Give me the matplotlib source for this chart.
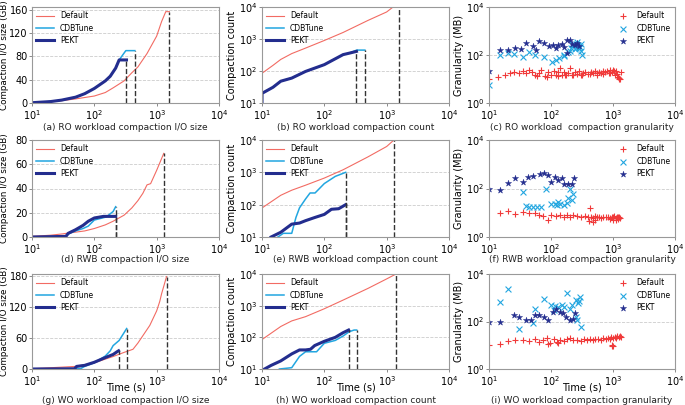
import matplotlib.pyplot as plt
import numpy as np

# ---- colours
C_DEF = '#f26b63'
C_DEF_PT = '#f03a3a'
C_CDB = '#22a6e0'
C_PEKT = '#232d8e'

# ---- (a) RO compaction I/O size (GB)
a_def_x = [10, 20, 30, 50, 100, 150, 200, 300, 400, 500, 700, 1000, 1200, 1400, 1600]
a_def_y = [0.5, 2, 4, 7, 12, 18, 26, 38, 52, 62, 85, 115, 140, 157, 157]
a_cdb_x = [10, 20, 30, 50, 70, 100, 150, 180, 220, 250, 320, 447]
a_cdb_y = [0.5, 2.5, 5, 10, 16, 25, 38, 46, 60, 74, 90, 90]
a_pekt_x = [10, 20, 30, 50, 70, 100, 150, 180, 220, 250, 328]
a_pekt_y = [0.5, 2.5, 5, 10, 16, 25, 38, 46, 60, 74, 74]

# ---- (b) RO compaction count
b_def_x = [10, 15, 20, 30, 50, 100, 200, 500, 1000, 1250, 1600]
b_def_y = [85, 150, 230, 350, 520, 900, 1600, 3800, 7000, 9800, 9800]
b_cdb_x = [10, 10, 15, 20, 30, 50, 100, 200, 250, 330, 447]
b_cdb_y = [10, 20, 31, 48, 60, 97, 158, 325, 360, 450, 450]
b_pekt_x = [10, 10, 15, 20, 30, 50, 100, 200, 250, 328]
b_pekt_y = [10, 20, 31, 48, 60, 97, 158, 325, 360, 410]

# ---- (c) RO granularity (MB)
c_def_x = [10, 14, 18, 22, 25, 30, 35, 40, 45, 50, 55, 60, 65, 70, 80, 90, 100, 110, 120,
           130, 140, 150, 160, 175, 190, 200, 220, 240, 260, 280, 300, 330, 360, 400, 440,
           480, 520, 560, 600, 650, 700, 750, 800, 850, 900, 950, 1000, 1050, 1100, 1150,
           1200, 1230, 1260, 1300, 1350, 85, 130, 170, 230, 320, 420, 550, 700, 900, 1080]
c_def_y = [10, 12, 15, 17, 19, 17, 21, 18, 23, 20, 15, 13, 18, 24, 13, 20, 15, 22, 14,
           19, 28, 14, 20, 15, 18, 28, 14, 19, 16, 21, 15, 18, 20, 16, 19,
           17, 21, 18, 20, 17, 22, 19, 21, 18, 23, 20, 24, 21, 22, 16,
           12, 10, 11, 10, 20, 12, 13, 14, 15, 14, 16, 15, 16, 17, 14]
c_cdb_x = [10, 15, 20, 25, 36, 45, 55, 77, 104, 134, 165, 190, 200, 210, 220, 230, 240,
           250, 260, 270, 280, 300, 310, 320, 120, 160, 250, 290]
c_cdb_y = [5.8, 97, 120, 110, 82, 130, 100, 82, 52, 74, 100, 130, 150, 200, 300, 250, 180,
           200, 350, 250, 200, 150, 280, 100, 60, 90, 300, 220]
c_pekt_x = [10, 15, 20, 26, 33, 40, 51, 58, 63, 77, 92, 107, 130, 148, 180, 204, 180, 240,
            260, 280, 120, 160, 220]
c_pekt_y = [22, 167, 167, 195, 180, 320, 230, 167, 370, 320, 230, 270, 250, 300, 430, 430,
            120, 250, 330, 230, 200, 220, 300]

# ---- (d) RWB compaction I/O size (GB)
d_def_x = [10, 20, 30, 50, 70, 100, 150, 200, 300, 400, 500, 600, 700, 800, 1000, 1300]
d_def_y = [0.5, 1.5, 2.5, 4, 5, 7, 10, 13, 18, 24, 30, 36, 43, 44, 55, 69]
d_cdb_x = [10, 35, 40, 50, 66, 80, 100, 155, 200, 220]
d_cdb_y = [0, 0.5, 3, 5, 7, 9, 14, 16.5, 21, 25]
d_pekt_x = [10, 35, 38, 50, 66, 80, 100, 140, 180, 220]
d_pekt_y = [0, 0.5, 3, 6, 9.6, 13, 15.7, 17, 17, 17]

# ---- (e) RWB compaction count
e_def_x = [10, 20, 30, 50, 100, 200, 500, 1000, 1300]
e_def_y = [79, 195, 280, 400, 665, 1200, 3000, 6300, 9900]
e_cdb_x = [18, 22, 30, 35, 40, 50, 59, 71, 100, 150, 220]
e_cdb_y = [10, 13, 13, 40, 80, 150, 230, 230, 450, 750, 1000]
e_pekt_x = [14, 20, 30, 40, 50, 70, 100, 130, 170, 220]
e_pekt_y = [10, 14, 25, 27, 32, 40, 50, 72, 75, 100]

# ---- (f) RWB granularity (MB)
f_def_x = [15, 20, 26, 35, 45, 55, 65, 75, 90, 100, 120, 140, 160, 180, 200, 230, 260, 300,
           350, 400, 420, 450, 480, 520, 560, 600, 650, 700, 760, 820, 880, 950, 1000,
           1050, 1100, 1150, 1200, 1250, 1300, 410, 470, 520, 900, 1000, 1100, 1200]
f_def_y = [10.2, 11.5, 9, 11, 9.5, 10, 8, 7.5, 5, 8, 7.5, 8, 7, 8, 7, 8, 7.5, 7,
           7.5, 6.5, 16, 7, 6, 7.5, 6.5, 7, 6, 7, 6.5, 7, 6, 7, 6.5,
           7.5, 6, 7, 6.5, 7, 6, 4.5, 4.2, 5, 5.5, 4.8, 5.2, 5.5]
f_cdb_x = [36, 84, 40, 45, 52, 60, 70, 100, 115, 125, 140, 165, 190, 200, 215, 225, 180, 130]
f_cdb_y = [72, 100, 19, 18, 18, 17, 17, 22, 24, 20, 22, 20, 40, 100, 33, 60, 25, 28]
f_pekt_x = [10, 15, 20, 26, 35, 43, 51, 66, 77, 90, 100, 115, 130, 150, 165, 190, 215, 235]
f_pekt_y = [100, 90, 170, 280, 190, 300, 320, 390, 450, 350, 190, 300, 220, 260, 160, 160, 160, 280]

# ---- (g) WO compaction I/O size (GB)
g_def_x = [10, 50, 100, 200, 300, 417, 500, 776, 1000, 1120, 1200, 1440]
g_def_y = [0.5, 5, 12, 24, 32, 38, 50, 84, 112, 130, 145, 178]
g_cdb_x = [10, 60, 70, 100, 150, 180, 200, 250, 300, 330]
g_cdb_y = [0, 0.5, 5, 12, 25, 35, 45, 55, 70, 78]
g_pekt_x = [10, 48, 52, 70, 100, 150, 200, 230, 245]
g_pekt_y = [0, 0.5, 5, 7, 13, 22, 28, 33, 35]

# ---- (h) WO compaction count
h_def_x = [10, 20, 30, 50, 100, 200, 500, 1000, 1400]
h_def_y = [85, 220, 330, 450, 800, 1500, 3500, 7000, 9900]
h_cdb_x = [19, 30, 40, 50, 55, 75, 100, 150, 200, 250, 300, 330]
h_cdb_y = [10, 11, 25, 35, 35, 35, 65, 80, 110, 150, 170, 170]
h_pekt_x = [11, 14, 20, 30, 40, 50, 60, 70, 100, 150, 200, 245]
h_pekt_y = [10, 13, 18, 30, 40, 40, 42, 55, 75, 100, 140, 170]

# ---- (i) WO granularity (MB)
i_def_x = [10, 15, 20, 26, 35, 45, 55, 65, 75, 85, 95, 110, 125, 140, 160, 180, 200, 230,
           260, 300, 340, 380, 420, 470, 520, 580, 640, 700, 760, 820, 880, 940, 1000,
           1060, 1120, 1180, 1240, 1300, 1350, 90, 130, 950, 980, 1000]
i_def_y = [10.5, 11, 14.5, 16, 17, 15, 18, 14, 16, 20, 13, 19, 14, 17, 15, 18, 20, 16,
           17, 15, 18, 16, 19, 17, 18, 19, 17, 20, 18, 21, 19, 22, 20,
           23, 21, 24, 22, 25, 23, 11, 12, 9.5, 10, 9]
i_cdb_x = [15, 20, 31, 51, 55, 77, 100, 115, 130, 150, 165, 180, 215, 250, 290, 280, 300,
           250, 260, 110, 200, 270]
i_cdb_y = [650, 2300, 48, 85, 330, 860, 500, 450, 400, 500, 420, 1650, 500, 800, 1100,
           700, 60, 160, 120, 300, 350, 600]
i_pekt_x = [10, 15, 25, 31, 40, 48, 55, 65, 78, 90, 108, 122, 140, 155, 175, 200, 230, 245]
i_pekt_y = [100, 100, 190, 160, 120, 120, 190, 190, 160, 120, 260, 330, 260, 220, 160, 120,
            125, 220]

captions = ["(a) RO workload compaction I/O size", "(b) RO workload compaction count",
            "(c) RO workload  compaction granularity", "(d) RWB compaction I/O size",
            "(e) RWB workload compaction count", "(f) RWB workload compaction granularity",
            "(g) WO workload compaction I/O size", "(h) WO workload compaction count",
            "(i) WO workload compaction granularity"]

W, H = 685, 405
fig = plt.figure(figsize=(W / 100, H / 100), dpi=100)

cols = [(32, 219), (262, 449), (489, 675)]
rows = [(7, 103), (140, 237), (274, 369)]


def make_ax(r, c):
    (x0, x1), (y0, y1) = cols[c], rows[r]
    ax = fig.add_axes([x0 / W, 1 - y1 / H, (x1 - x0) / W, (y1 - y0) / H])
    ax.set_xscale('log')
    ax.set_xlim(10, 1e4)
    ax.set_xticks([1e1, 1e2, 1e3, 1e4])
    ax.minorticks_off()
    for s in ax.spines.values():
        s.set_color('#999999')
        s.set_linewidth(0.8)
    ax.tick_params(labelsize=7, length=2, width=0.6, color='#777777', pad=1.5)
    ax.yaxis.grid(True, linestyle='--', color='#cccccc', linewidth=0.6)
    ax.set_axisbelow(True)
    return ax


def line_panel(ax, data, log=False, ylim=None):
    (dx, dy), (cx, cy), (px, py) = data
    ax.plot(dx, dy, color=C_DEF, lw=0.8, label='Default')
    ax.plot(cx, cy, color=C_CDB, lw=1.1, label='CDBTune')
    ax.plot(px, py, color=C_PEKT, lw=2.2, label='PEKT')
    if log:
        ax.set_yscale('log')
        ax.set_ylim(10, 1e4)
        ax.set_yticks([1e1, 1e2, 1e3, 1e4])
        ax.minorticks_off()
    else:
        ax.set_ylim(*ylim)
    bottom = ax.get_ylim()[0]
    for xs, ys in [(dx, dy), (cx, cy), (px, py)]:
        ax.vlines(xs[-1], bottom, ys[-1], colors='#333333', linestyles='--', lw=1.0)
    ax.legend(loc='upper left', fontsize=5.5, frameon=False, handlelength=2.3,
              borderaxespad=0.35, labelspacing=0.45, borderpad=0.2)


def scatter_panel(ax, data):
    (dx, dy), (cx, cy), (px, py) = data
    ax.scatter(dx, dy, marker='+', color=C_DEF_PT, s=22, lw=0.8, label='Default')
    ax.scatter(cx, cy, marker='x', color=C_CDB, s=18, lw=0.8, label='CDBTune')
    ax.scatter(px, py, marker='*', color=C_PEKT, s=22, lw=0.3, label='PEKT')
    ax.set_yscale('log')
    ax.set_ylim(1, 1e4)
    ax.set_yticks([1e0, 1e2, 1e4])
    ax.minorticks_off()
    ax.set_ylabel('Granularity (MB)', fontsize=7, labelpad=1)
    ax.legend(loc='upper right', fontsize=5.5, frameon=False, handletextpad=0.8,
              borderaxespad=0.35, labelspacing=0.45, borderpad=0.2)


line_sets = {
    (0, 0): ([(a_def_x, a_def_y), (a_cdb_x, a_cdb_y), (a_pekt_x, a_pekt_y)], False, (0, 165), [0, 40, 80, 120, 160]),
    (1, 0): ([(d_def_x, d_def_y), (d_cdb_x, d_cdb_y), (d_pekt_x, d_pekt_y)], False, (0, 80), [0, 20, 40, 60, 80]),
    (2, 0): ([(g_def_x, g_def_y), (g_cdb_x, g_cdb_y), (g_pekt_x, g_pekt_y)], False, (0, 183), [0, 60, 120, 180]),
    (0, 1): ([(b_def_x, b_def_y), (b_cdb_x, b_cdb_y), (b_pekt_x, b_pekt_y)], True, None, None),
    (1, 1): ([(e_def_x, e_def_y), (e_cdb_x, e_cdb_y), (e_pekt_x, e_pekt_y)], True, None, None),
    (2, 1): ([(h_def_x, h_def_y), (h_cdb_x, h_cdb_y), (h_pekt_x, h_pekt_y)], True, None, None),
}
scatter_sets = {
    (0, 2): [(c_def_x, c_def_y), (c_cdb_x, c_cdb_y), (c_pekt_x, c_pekt_y)],
    (1, 2): [(f_def_x, f_def_y), (f_cdb_x, f_cdb_y), (f_pekt_x, f_pekt_y)],
    (2, 2): [(i_def_x, i_def_y), (i_cdb_x, i_cdb_y), (i_pekt_x, i_pekt_y)],
}

cap_y = [127, 260, 400.5]

for r in range(3):
    for c in range(3):
        ax = make_ax(r, c)
        h = rows[r][1] - rows[r][0]
        if c < 2:
            data, log, ylim, yt = line_sets[(r, c)]
            line_panel(ax, data, log, ylim)
            if yt is not None:
                ax.set_yticks(yt)
                ax.tick_params(axis='y', pad=1.0)
                ax.set_ylabel('Compaction I/O size (GB)', fontsize=6.3)
                ax.yaxis.set_label_coords(-22.5 / 187, 0.5)
            else:
                ax.set_ylabel('Compaction count', fontsize=7, labelpad=1)
        else:
            scatter_panel(ax, scatter_sets[(r, c)])
        if r == 2:
            ax.set_xlabel('Time (s)', fontsize=7)
            ax.xaxis.set_label_coords(0.5, -13.5 / h)
        x0, x1 = cols[c]
        fig.text((x0 + x1) / 2 / W, 1 - cap_y[r] / H, captions[r * 3 + c],
                 ha='center', va='center', fontsize=6.5, color='#222222')

fig.savefig('out.png', dpi=100)
